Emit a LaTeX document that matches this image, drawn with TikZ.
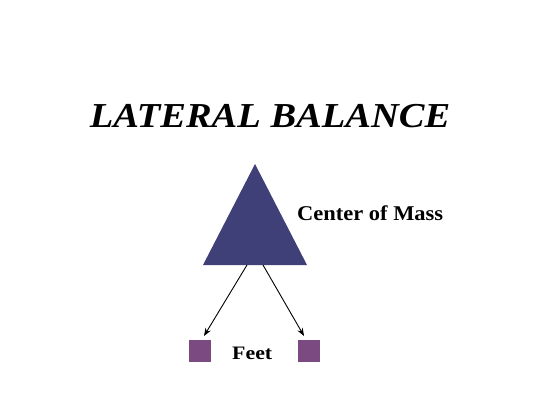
\documentclass[tikz,border=0pt]{standalone}
\usepackage{fontspec}
\setmainfont{Liberation Serif}
\usetikzlibrary{arrows.meta}
\definecolor{tri}{HTML}{404079}
\definecolor{foot}{HTML}{7A4A80}
\begin{document}
\begin{tikzpicture}[x=1pt,y=-1pt,
  lbl/.style={inner sep=0pt,anchor=base west},
  footbox/.style={fill=foot,draw=none,minimum size=22pt,inner sep=0pt},
  arr/.style={-{Stealth[length=8pt,width=6pt]},line width=0.9pt}]
\useasboundingbox (0,0) rectangle (545,408);
\node[inner sep=0pt,anchor=base] (title) at (270,127)
  {\scalebox{1.1}[1]{\fontsize{35}{40}\selectfont\bfseries\itshape LATERAL BALANCE}};
\fill[tri] (255,164) -- (307,265) -- (203,265) -- cycle;
\coordinate (tl) at (247,265);
\coordinate (tr) at (263,265);
\coordinate (el) at (204,336);
\coordinate (er) at (304,336);
\node[lbl] (com) at (297,220) {\scalebox{1.07}[1]{\fontsize{21}{24}\selectfont\bfseries Center of Mass}};
\node[footbox] (f1) at (200,351) {};
\node[footbox] (f2) at (309,351) {};
\node[lbl] (feet) at (232,359) {\scalebox{1.15}[1]{\fontsize{19}{22}\selectfont\bfseries Feet}};
\draw[arr] (tl) -- (el);
\draw[arr] (tr) -- (er);
\end{tikzpicture}
\end{document}
